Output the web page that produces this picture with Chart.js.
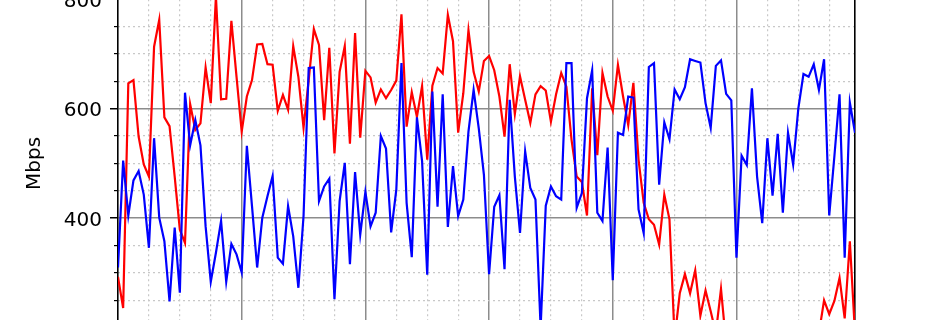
<!DOCTYPE html>
<html>
<head>
<meta charset="utf-8">
<script src="https://cdn.jsdelivr.net/npm/chart.js@4.4.1/dist/chart.umd.min.js"></script>
<style>
  html, body { margin: 0; padding: 0; background: #fff; }
  #wrap { position: relative; width: 950px; height: 320px; overflow: hidden; }
  #chart { position: absolute; left: 0; top: -100px; }
</style>
</head>
<body>
<div id="wrap"><canvas id="chart" width="950" height="560"></canvas></div>
<script>
// hourly throughput, 6 days (the picture is a crop of a larger plot)
const red = [
  293, 236, 646, 652, 549, 498, 476, 713, 762, 584, 568, 476, 379, 355, 608, 561, 573, 675, 610, 805, 617, 618, 760, 658, 558,
  622, 652, 717, 718, 681, 680, 596, 625, 598, 714, 658, 565, 652, 745, 716, 579, 711, 518, 667, 714, 536, 738, 547, 669,
  657, 611, 635, 619, 634, 651, 772, 567, 630, 585, 641, 507, 642, 674, 664, 771, 723, 556, 628, 743, 667, 631, 687, 696,
  670, 622, 549, 681, 590, 659, 616, 574, 626, 641, 633, 576, 626, 665, 640, 543, 476, 466, 405, 637, 515, 665, 622, 596,
  680, 622, 570, 647, 507, 428, 398, 388, 352, 443, 398, 180, 263, 298, 263, 305, 222, 268, 230, 190, 271, 170, 160, 150,
  140, 165, 150, 130, 155, 170, 145, 160, 175, 150, 140, 165, 180, 155, 170, 190, 250, 225, 249, 291, 217, 358, 190
];
const blue = [
  310, 505, 405, 469, 486, 443, 346, 546, 401, 358, 248, 383, 264, 629, 533, 579, 533, 385, 284, 337, 395, 284, 353, 334, 301,
  532, 422, 310, 401, 440, 477, 328, 317, 422, 367, 273, 404, 674, 675, 431, 458, 472, 252, 431, 501, 316, 484, 370, 448,
  385, 410, 550, 527, 374, 452, 683, 428, 329, 584, 504, 297, 631, 421, 626, 384, 495, 404, 434, 558, 634, 564, 479, 298,
  421, 442, 307, 616, 476, 373, 522, 455, 434, 200, 423, 458, 440, 434, 683, 683, 419, 446, 619, 670, 410, 395, 529, 287,
  556, 552, 622, 620, 416, 373, 676, 683, 461, 575, 544, 635, 617, 639, 690, 687, 684, 610, 565, 678, 688, 627, 615, 328,
  514, 497, 637, 476, 391, 546, 441, 554, 410, 556, 498, 600, 663, 658, 681, 634, 690, 405, 513, 626, 328, 611, 556
];
const yMajor = [200, 400, 600, 800];
const yMinor = [150, 250, 300, 350, 450, 500, 550, 650, 700, 750, 850];
const xMajor = [24, 48, 72, 96, 120];
const xMinor = [6, 12, 18, 30, 36, 42, 54, 60, 66, 78, 84, 90, 102, 108, 114, 126, 132, 138];
const yLabel = 'Mbps';

const font = { family: 'DejaVu Sans', size: 20 };
const toPoints = arr => arr.map((v, i) => ({ x: i, y: v }));
const setTicks = list => axis => { axis.ticks = list.map(v => ({ value: v })); };

new Chart(document.getElementById('chart'), {
  type: 'line',
  data: {
    datasets: [
      { data: toPoints(blue), borderColor: '#0000ff', borderWidth: 2.2, pointRadius: 0, tension: 0, fill: false },
      { data: toPoints(red), borderColor: '#ff0000', borderWidth: 2.2, pointRadius: 0, tension: 0, fill: false }
    ]
  },
  options: {
    responsive: false,
    animation: false,
    devicePixelRatio: 1,
    layout: { padding: { top: 44.2, left: 0, right: 95, bottom: 0 } },
    plugins: { legend: { display: false }, tooltip: { enabled: false } },
    scales: {
      // major / minor grids are separate axes so they can have different dashes
      x: {
        type: 'linear', min: 0, max: 143, weight: 1,
        afterBuildTicks: setTicks(xMajor),
        afterFit: a => { a.height = 77.4; },
        ticks: { display: false },
        grid: { color: '#8c8c8c', lineWidth: 1.5, tickLength: 8, tickColor: '#000' },
        border: { display: false }
      },
      xm: {
        type: 'linear', position: 'bottom', min: 0, max: 143, weight: 0,
        afterBuildTicks: setTicks(xMinor),
        afterFit: a => { a.height = 0; },
        ticks: { display: false },
        grid: { color: '#c8c8c8', lineWidth: 1.2, drawTicks: false },
        border: { display: false, dash: [2, 3] }
      },
      y: {
        type: 'linear', position: 'left', min: 100, max: 900, weight: 1,
        afterBuildTicks: setTicks(yMajor),
        afterFit: a => { a.width = 118; },
        ticks: { color: '#000', font: font, padding: 8, labelOffset: 2.5 },
        grid: { color: '#8c8c8c', lineWidth: 1.5, tickLength: 8, tickColor: '#000', tickWidth: 1.5 },
        border: { display: true, color: '#000', width: 1.6 },
        title: { display: true, text: yLabel, color: '#000', font: font, padding: { top: 23, bottom: 0 } }
      },
      ym: {
        type: 'linear', position: 'left', min: 100, max: 900, weight: 0,
        afterBuildTicks: setTicks(yMinor),
        afterFit: a => { a.width = 0; },
        ticks: { display: false },
        grid: { color: '#c8c8c8', lineWidth: 1.2, tickLength: 4, tickColor: '#000', tickWidth: 1.2 },
        border: { display: false, dash: [2, 3] }
      },
      yr: {
        type: 'linear', position: 'right', min: 100, max: 900,
        afterFit: a => { a.width = 0; },
        ticks: { display: false },
        grid: { display: false, drawTicks: false },
        border: { display: true, color: '#000', width: 1.6 }
      }
    }
  }
});
</script>
</body>
</html>
